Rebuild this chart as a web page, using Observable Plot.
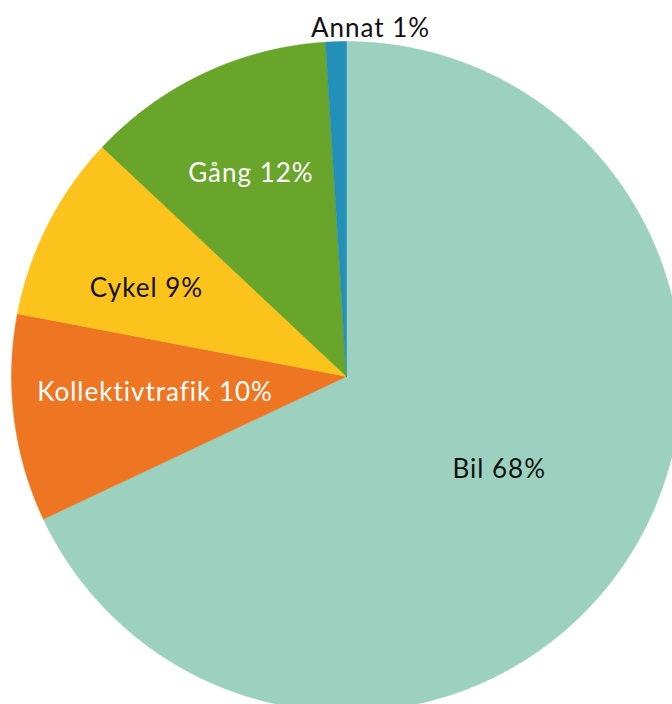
<!DOCTYPE html>
<html>
<head>
<meta charset="utf-8">
<script src="https://cdn.jsdelivr.net/npm/d3@7"></script>
<script src="https://cdn.jsdelivr.net/npm/@observablehq/plot@0.6"></script>
<style>
  html, body { margin: 0; padding: 0; background: #fff; }
  #chart svg { display: block; }
  #chart svg text { letter-spacing: 1px; }
</style>
</head>
<body>
<div id="chart"></div>
<script>
// Data
const categories = ["Bil", "Kollektivtrafik", "Cykel", "Gång", "Annat"];
const shares = [68, 10, 9, 12, 1];
const colors = ["#9dd1bf", "#ee7623", "#fbc31b", "#69a52b", "#2290b9"];
const labelColors = ["#111", "#fff", "#111", "#fff", "#111"];
// Layout config: label radius (fraction of pie radius) and pixel nudges
const labelRadius = [0.54, 0.57, 0.65, 0.67, 1.04];
const labelDx = [0, -2, -6, 0, 35];
const labelDy = [-4, -8, 11, 0, 0];

const W = 672, H = 704;
const cx = 346, cy = 376, R = 335;

const pie = d3.pie().sort(null).value(d => d.value);
const table = categories.map((c, i) => ({name: c, value: shares[i], color: colors[i], lc: labelColors[i], lr: labelRadius[i], dx: labelDx[i], dy: labelDy[i]}));
const arcs = pie(table);

// polygon points per slice in unit coordinates (y up)
const pts = [];
arcs.forEach(a => {
  const n = Math.max(2, Math.ceil((a.endAngle - a.startAngle) / 0.005));
  pts.push({name: a.data.name, color: a.data.color, x: 0, y: 0});
  for (let k = 0; k <= n; k++) {
    const t = a.startAngle + (a.endAngle - a.startAngle) * k / n;
    pts.push({name: a.data.name, color: a.data.color, x: Math.sin(t), y: Math.cos(t)});
  }
  pts.push({name: a.data.name, color: a.data.color, x: 0, y: 0});
});

const labels = arcs.map(a => {
  const m = (a.startAngle + a.endAngle) / 2;
  return {
    text: `${a.data.name} ${a.data.value}%`,
    x: a.data.lr * Math.sin(m) + a.data.dx / R,
    y: a.data.lr * Math.cos(m) - a.data.dy / R,
    lc: a.data.lc
  };
});

const plot = Plot.plot({
  width: W,
  height: H,
  margin: 0,
  x: {domain: [-cx / R, (W - cx) / R], axis: null},
  y: {domain: [-(H - cy) / R, cy / R], axis: null},
  style: {fontFamily: "Lato, 'Open Sans', sans-serif", background: "#fff"},
  marks: [
    Plot.line(pts, {x: "x", y: "y", z: "name", fill: "color", stroke: "color", strokeWidth: 0.5, curve: "linear"}),
    Plot.text(labels, {x: "x", y: "y", text: "text", fill: "lc", fontSize: 26, textAnchor: "middle", lineAnchor: "middle"})
  ]
});
document.getElementById("chart").appendChild(plot);
</script>
</body>
</html>
